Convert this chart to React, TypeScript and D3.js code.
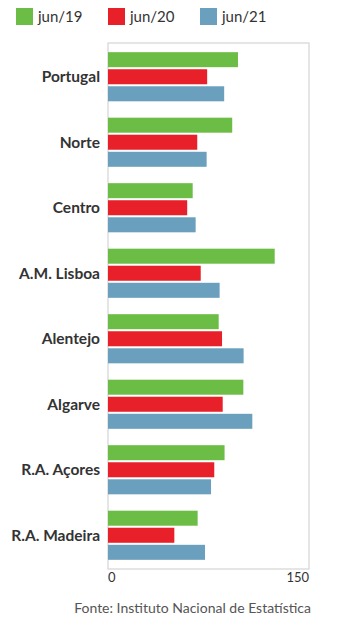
import React from "react";
import * as d3 from "d3";

const categories = ["Portugal", "Norte", "Centro", "A.M. Lisboa", "Alentejo", "Algarve", "R.A. Açores", "R.A. Madeira"];
const seriesNames = ["jun/19", "jun/20", "jun/21"];
const jun19 = [97, 92.7, 63.2, 124.4, 82.6, 101, 87, 66.9];
const jun20 = [74, 66.6, 59.1, 69.2, 85.1, 85.6, 79.3, 49.5];
const jun21 = [86.7, 73.6, 65.4, 83.3, 101.2, 107.7, 76.9, 72.4];
const xTicks = [0, 150];
const colors = ["#6cbd45", "#e8202a", "#6a9fbd"];
const sourceText = "Fonte: Instituto Nacional de Estatística";

export default function App() {
  const W = 338, H = 627;
  const left = 108, right = 309, top = 43, bottom = 569;
  const x = d3.scaleLinear().domain([0, 150]).range([left, right]);
  const y = d3.scaleBand<string>().domain(categories).range([top, bottom]).paddingInner(0.25).paddingOuter(0.14);
  const sub = d3.scaleBand<string>().domain(seriesNames).range([0, y.bandwidth()]).paddingInner(0.12);
  const values = [jun19, jun20, jun21];
  const font = "Lato, 'Liberation Sans', Arial, sans-serif";

  return (
    <svg width={W} height={H} style={{ position: "absolute", left: 0, top: 0, background: "#fff" }} fontFamily={font}>
      {seriesNames.map((s, i) => {
        const lx = [16, 108, 200][i];
        return (
          <g key={s}>
            <rect x={lx} y={8} width={17} height={17} fill={colors[i]} />
            <text x={lx + 22} y={22} fontSize={15} fill="#333">{s}</text>
          </g>
        );
      })}
      <rect x={left} y={top} width={right - left} height={bottom - top} fill="none" stroke="#d4d4d4" strokeWidth={1.2} />
      {categories.map((c, ci) => (
        <g key={c}>
          {values.map((vals, si) => (
            <rect
              key={si}
              x={x(0)}
              y={(y(c) as number) + (sub(seriesNames[si]) as number)}
              width={x(vals[ci]) - x(0)}
              height={sub.bandwidth()}
              fill={colors[si]}
            />
          ))}
          <text
            x={100}
            y={(y(c) as number) + y.bandwidth() / 2}
            dy="0.35em"
            textAnchor="end"
            fontSize={15.5}
            fontWeight="bold"
            fill="#333"
          >
            {c}
          </text>
        </g>
      ))}
      {xTicks.map((t, i) => (
        <text key={t} x={x(t)} y={582} fontSize={13} fill="#333" textAnchor={i === 0 ? "start" : "end"}>
          {t}
        </text>
      ))}
      <text x={311} y={613} fontSize={14} fill="#555" textAnchor="end">{sourceText}</text>
    </svg>
  );
}
